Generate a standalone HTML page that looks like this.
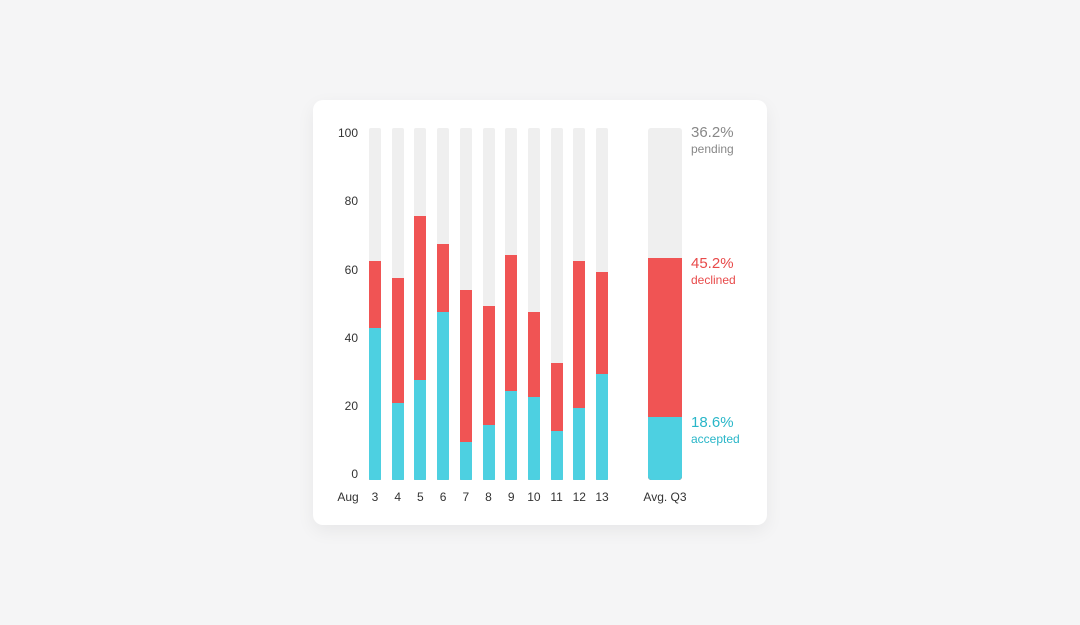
<!DOCTYPE html>
<html><head><style>
body{margin:0;width:1080px;height:625px;background:#f5f5f6;position:relative;font-family:"Liberation Sans",sans-serif;overflow:hidden}
.card{position:absolute;left:313px;top:100px;width:454px;height:425px;background:#fff;border-radius:10px;box-shadow:0 6px 18px rgba(0,0,0,0.06)}
.b{position:absolute;width:12px;top:128px;height:352px;background:#efefef;overflow:hidden;border-radius:2px 2px 1px 1px}
.r,.c{position:absolute;left:0;right:0;bottom:0}
.r{background:#f05454}.c{background:#4dd0e1}
.yl{position:absolute;right:722px;font-size:12px;color:#333;line-height:14px}
.xl{position:absolute;top:490px;font-size:12px;color:#333;width:30px;text-align:center;line-height:14px}
.lab{position:absolute;left:691px;line-height:16px}
.lab .p{font-size:15px}.lab .s{font-size:12px}
</style></head><body>
<div class="card"></div>
<div class="yl" style="top:126px">100</div>
<div class="yl" style="top:194px">80</div>
<div class="yl" style="top:263px">60</div>
<div class="yl" style="top:331px">40</div>
<div class="yl" style="top:399px">20</div>
<div class="yl" style="top:467px">0</div>
<div class="xl" style="left:333px">Aug</div>
<div id="bars"></div>
<div class="b" style="left:648px;width:34px;border-radius:3px"><div class="r" style="height:222px"></div><div class="c" style="height:63px;border-radius:0 0 3px 3px"></div></div>
<div class="xl" style="left:635px;width:60px">Avg. Q3</div>
<div class="lab" style="top:125px;color:#888"><div class="p">36.2%</div><div class="s">pending</div></div>
<div class="lab" style="top:256px;color:#e84a4a"><div class="p">45.2%</div><div class="s">declined</div></div>
<div class="lab" style="top:415px;color:#29b6c8"><div class="p">18.6%</div><div class="s">accepted</div></div>
<script>
var d=[[3,261,328],[4,278,403],[5,216,380],[6,244,312],[7,290,442],[8,306,425],[9,255,391],[10,312,397],[11,363,431],[12,261,408],[13,272,374]];
var h='';
d.forEach(function(v,i){var x=369+i*22.7;
h+='<div class="b" style="left:'+x.toFixed(1)+'px"><div class="r" style="height:'+(480-v[1])+'px"></div><div class="c" style="height:'+(480-v[2])+'px"></div></div>';
h+='<div class="xl" style="left:'+(x-9).toFixed(1)+'px">'+v[0]+'</div>';});
document.getElementById('bars').innerHTML=h;
</script>
</body></html>
